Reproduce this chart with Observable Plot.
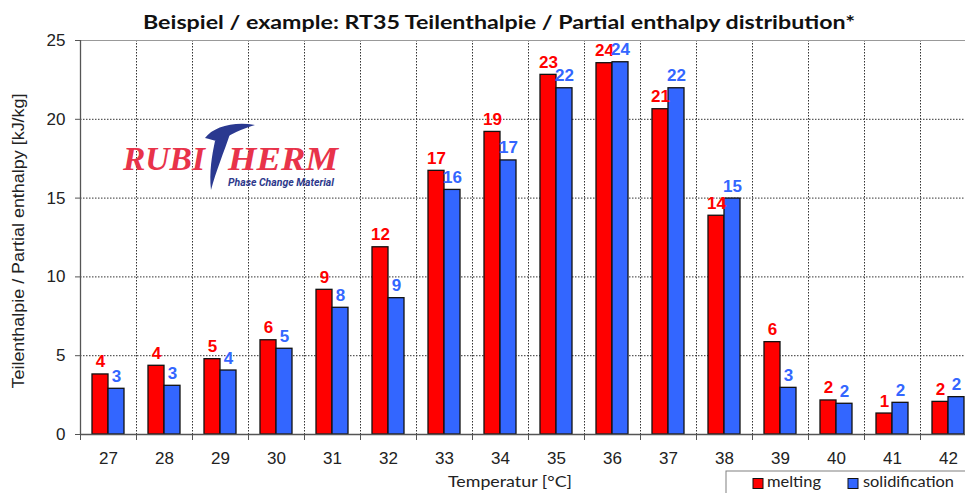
<!DOCTYPE html>
<html>
<head>
<meta charset="utf-8">
<script src="https://cdn.jsdelivr.net/npm/d3@7"></script>
<script src="https://cdn.jsdelivr.net/npm/@observablehq/plot@0.6"></script>
<style>
  body { margin: 0; background: #fff; }
  #wrap { position: relative; width: 965px; height: 493px; overflow: hidden; background: #fff; }
  #wrap > svg.overlay { position: absolute; left: 0; top: 0; pointer-events: none; }
</style>
</head>
<body>
<div id="wrap"></div>
<script>
// ---- data ----
const temperatures = [27, 28, 29, 30, 31, 32, 33, 34, 35, 36, 37, 38, 39, 40, 41, 42];
const melting = [3.81, 4.36, 4.78, 5.98, 9.18, 11.88, 16.73, 19.2, 22.82, 23.56, 20.64, 13.88, 5.86, 2.16, 1.33, 2.07];
const solidification = [2.9, 3.09, 4.06, 5.44, 8.04, 8.65, 15.52, 17.39, 21.97, 23.62, 21.97, 14.97, 2.96, 1.95, 2.01, 2.37];
const seriesNames = ["melting", "solidification"];
const seriesColors = ["#ff0000", "#3366ff"];
const yTicks = [0, 5, 10, 15, 20, 25];

const titleText = "Beispiel / example: RT35 Teilenthalpie / Partial enthalpy distribution*";
const yLabel = "Teilenthalpie / Partial enthalpy [kJ/kg]";
const xLabel = "Temperatur [°C]";

// ---- table for the library ----
const rows = temperatures.flatMap((t, i) => [
  {t, s: seriesNames[0], v: melting[i], side: -1},
  {t, s: seriesNames[1], v: solidification[i], side: 1}
]);
const BAR = 16 / 56; // bar width as a fraction of one category step
const bounds = [temperatures[0] - 0.5, ...temperatures.map(t => t + 0.5)];

const plot = Plot.plot({
  width: 965,
  height: 493,
  marginTop: 40,
  marginBottom: 59,
  marginLeft: 80,
  marginRight: 0,
  style: {fontFamily: "'Liberation Sans', Arial, sans-serif", color: "#222", background: "white"},
  x: {type: "linear", domain: [bounds[0], bounds[bounds.length - 1]], range: [80, 976]},
  y: {domain: [0, 25], range: [434, 40]},
  color: {domain: seriesNames, range: seriesColors},
  marks: [
    Plot.ruleY(yTicks.filter(v => v > 0 && v < 25), {stroke: "#333", strokeDasharray: "1.5,1.5"}),
    Plot.ruleX(bounds.slice(1), {stroke: "#333", strokeDasharray: "1.5,1.5"}),
    Plot.ruleY([25], {stroke: "#999"}),
    Plot.rect(rows, {
      x1: d => d.side < 0 ? d.t - BAR : d.t,
      x2: d => d.side < 0 ? d.t : d.t + BAR,
      y1: 0, y2: "v",
      fill: "s", stroke: "#111", strokeWidth: 1.3
    }),
    Plot.ruleY([0], {stroke: "#555", strokeWidth: 1.3}),
    Plot.ruleX([bounds[0]], {stroke: "#555", strokeWidth: 1.3}),
    Plot.axisY({ticks: yTicks, tickSize: 5, tickPadding: 10, fontSize: 17, label: null, stroke: "#555"}),
    Plot.axisX({ticks: temperatures, tickSize: 0, tickPadding: 17, fontSize: 17, label: null, tickFormat: d => String(d)}),
    Plot.axisX({ticks: bounds, tickSize: 6, tickFormat: () => "", label: null, stroke: "#555"}),
    Plot.text(rows, {
      x: d => d.t + d.side * BAR / 2,
      y: "v",
      text: d => String(Math.round(d.v)),
      fill: "s",
      fontWeight: "bold",
      fontSize: 17,
      lineAnchor: "bottom",
      dy: -7
    })
  ]
});

const wrap = document.getElementById("wrap");
wrap.appendChild(plot);

// ---- overlay: title, axis titles, legend, logo ----
const ns = "http://www.w3.org/2000/svg";
const ov = document.createElementNS(ns, "svg");
ov.setAttribute("class", "overlay");
ov.setAttribute("width", 965);
ov.setAttribute("height", 493);
ov.innerHTML = `
  <text x="143" y="29" font-family="Lato, 'Open Sans', sans-serif" font-weight="bold" font-size="19" fill="#111"
        textLength="712" lengthAdjust="spacingAndGlyphs">${titleText}</text>
  <text transform="translate(24,241) rotate(-90)" text-anchor="middle" font-family="'Liberation Sans', Arial, sans-serif"
        font-size="16" fill="#222" textLength="295" lengthAdjust="spacingAndGlyphs">${yLabel}</text>
  <text x="448" y="487" font-family="Lato, sans-serif" font-size="16" fill="#222"
        textLength="124" lengthAdjust="spacingAndGlyphs">${xLabel}</text>
  <rect x="726" y="471" width="300" height="60" fill="white" stroke="#808080" stroke-width="1"/>
  <rect x="753" y="478.5" width="10" height="10" fill="${seriesColors[0]}" stroke="#111" stroke-width="1"/>
  <text x="767" y="487" font-family="Lato, sans-serif" font-size="16" fill="#222"
        textLength="54" lengthAdjust="spacingAndGlyphs">${seriesNames[0]}</text>
  <rect x="848" y="478.5" width="10" height="10" fill="${seriesColors[1]}" stroke="#111" stroke-width="1"/>
  <text x="863" y="487" font-family="Lato, sans-serif" font-size="16" fill="#222"
        textLength="91" lengthAdjust="spacingAndGlyphs">${seriesNames[1]}</text>
  <g>
    <text x="123" y="170" font-family="'Liberation Serif', 'DejaVu Serif', serif" font-weight="bold" font-style="italic"
          font-size="33" fill="#e8334a" textLength="82" lengthAdjust="spacingAndGlyphs">RUBI</text>
    <text x="228" y="170" font-family="'Liberation Serif', 'DejaVu Serif', serif" font-weight="bold" font-style="italic"
          font-size="33" fill="#e8334a" textLength="110" lengthAdjust="spacingAndGlyphs">HERM</text>
    <path d="M205,138 C213,127 234,121 255,125 C242,129 230,134 219,142 C214,140 209,139 205,138 Z" fill="#2a3990"/>
    <path d="M215,141 L230,134 C224,152 216,171 211,190 C209,172 212,155 215,141 Z" fill="#2a3990"/>
    <text x="228" y="186" font-family="Roboto, 'DejaVu Sans', sans-serif" font-weight="bold" font-style="italic"
          font-size="10" fill="#2e3a8c" textLength="106" lengthAdjust="spacingAndGlyphs">Phase Change Material</text>
  </g>
`;
wrap.appendChild(ov);
</script>
</body>
</html>
